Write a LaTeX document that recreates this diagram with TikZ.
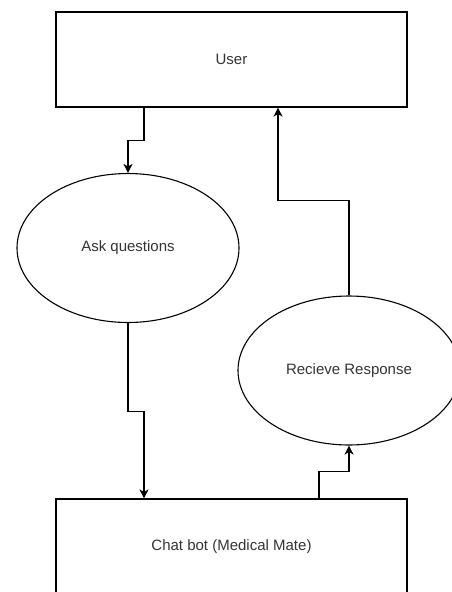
\documentclass[tikz,border=0pt]{standalone}
\usepackage{fontspec}
\setmainfont{Liberation Sans}
\usetikzlibrary{shapes.geometric, arrows.meta, calc}

\begin{document}
\begin{tikzpicture}[
    x=1pt, y=-1pt,
    box/.style={rectangle, draw, line width=1.1pt, minimum width=351pt, minimum height=95pt, align=center, font=\fontsize{15}{18}\selectfont, text=black!80},
    proc/.style={ellipse, draw, line width=1.1pt, minimum width=222pt, minimum height=149pt, inner sep=0pt, align=center, font=\fontsize{15}{18}\selectfont, text=black!80},
    arrow/.style={-{Stealth[length=9pt, width=9pt, inset=2.5pt]}, line width=1.1pt},
]
\useasboundingbox (0,0) rectangle (452,592);

% Entities
\node[box] (user) at (231.5,59.5) {User};
\node[box] (bot) at (231.5,546.5) {Chat bot (Medical Mate)};

% Processes
\node[proc] (ask) at (128,248) {Ask questions};
\node[proc] (recv) at (349,370.5) {Recieve Response};

% Arrows
\draw[arrow] ($(user.south)+(-87.5,0)$) -- ++(0,33) -| (ask.north);
\draw[arrow] (ask.south) -- ++(0,88) -| ($(bot.north)+(-87.5,0)$);
\draw[arrow] ($(bot.north)+(87.5,0)$) -- ++(0,-27) -| (recv.south);
\draw[arrow] (recv.north) -- ++(0,-95) -| ($(user.south)+(46.5,0)$);

\end{tikzpicture}
\end{document}
